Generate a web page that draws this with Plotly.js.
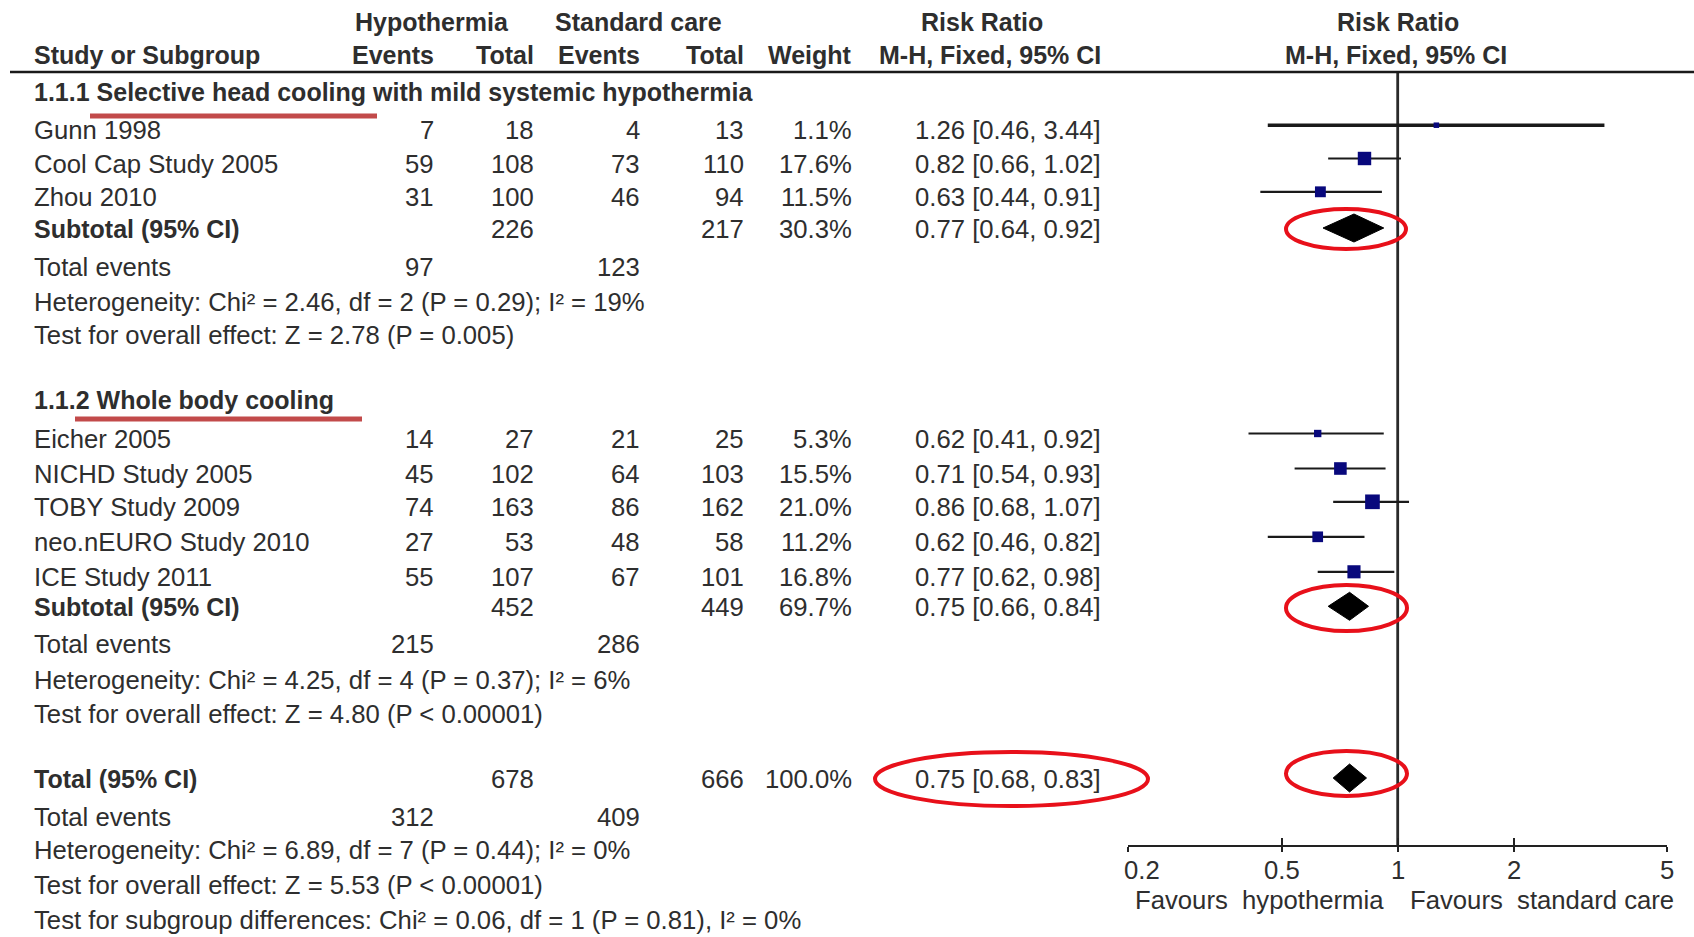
<!DOCTYPE html>
<html>
<head>
<meta charset="utf-8">
<script src="https://cdn.plot.ly/plotly-3.0.1.min.js"></script>
<style>html,body{margin:0;padding:0;background:#fff;}#chart{width:1694px;height:937px;}</style>
</head>
<body>
<div id="chart"></div>
<script>
// ---------------- DATA ----------------
const studies = ["Gunn 1998", "Cool Cap Study 2005", "Zhou 2010", "Eicher 2005", "NICHD Study 2005", "TOBY Study 2009", "neo.nEURO Study 2010", "ICE Study 2011"];
const studyGroup = [0, 0, 0, 1, 1, 1, 1, 1];
const hypEvents = [7, 59, 31, 14, 45, 74, 27, 55];
const hypTotal = [18, 108, 100, 27, 102, 163, 53, 107];
const scEvents = [4, 73, 46, 21, 64, 86, 48, 67];
const scTotal = [13, 110, 94, 25, 103, 162, 58, 101];
const weight = [1.1, 17.6, 11.5, 5.3, 15.5, 21.0, 11.2, 16.8];
const rr = [1.26, 0.82, 0.63, 0.62, 0.71, 0.86, 0.62, 0.77];
const rrLo = [0.46, 0.66, 0.44, 0.41, 0.54, 0.68, 0.46, 0.62];
const rrHi = [3.44, 1.02, 0.91, 0.92, 0.93, 1.07, 0.82, 0.98];

const groupNames = ["1.1.1 Selective head cooling with mild systemic hypothermia", "1.1.2 Whole body cooling"];
const subHypTotal = [226, 452];
const subScTotal = [217, 449];
const subWeight = [30.3, 69.7];
const subRR = [0.77, 0.75];
const subLo = [0.64, 0.66];
const subHi = [0.92, 0.84];
const subHypEvents = [97, 215];
const subScEvents = [123, 286];
const subHet = ["Heterogeneity: Chi² = 2.46, df = 2 (P = 0.29); I² = 19%", "Heterogeneity: Chi² = 4.25, df = 4 (P = 0.37); I² = 6%"];
const subTest = ["Test for overall effect: Z = 2.78 (P = 0.005)", "Test for overall effect: Z = 4.80 (P &lt; 0.00001)"];

const totHypTotal = 678, totScTotal = 666, totWeight = 100.0;
const totRR = 0.75, totLo = 0.68, totHi = 0.83;
const totHypEvents = 312, totScEvents = 409;
const totHet = "Heterogeneity: Chi² = 6.89, df = 7 (P = 0.44); I² = 0%";
const totTest = "Test for overall effect: Z = 5.53 (P &lt; 0.00001)";
const subgroupTest = "Test for subgroup differences: Chi² = 0.06, df = 1 (P = 0.81), I² = 0%";

const tickVals = [0.2, 0.5, 1, 2, 5];
const tickText = ["0.2", "0.5", "1", "2", "5"];
const favoursLeft = "Favours hypothermia";
const favoursRight = "Favours standard care";

// ---------------- LAYOUT (pixel positions) ----------------
const W = 1694, H = 937;
const ROW = {
  hdr1: 23, hdr2: 56.5, rule: 72,
  grp: [93, 401.7],
  study: [131.7, 165, 198.3, 440, 475, 508.3, 543.3, 578.3],
  sub: [230, 608.3], subTE: [268.3, 645], subHet: [303.3, 681.7], subTest: [336.7, 715],
  total: 780, totTE: 818.3, totHet: 851.7, totTest: 886.7, subgrp: 921,
  axis: 846, tickLab: 870, favours: 900
};
const TEXT_DY = -1.5;
const COL = { label: 32, hypE: 436, hypT: 536, scE: 642, scT: 746, w: 854, rr: 1103 };
const MARK_OFF = -6.5, DIAM_OFF = -2, DIAM_H = 14;
const TXT = '#2e2e2e';
const FONT = 'Liberation Sans, Arial, sans-serif';
const FS = 25.7, FSB = 25;

const ann = [];
function t(text, x, y, anchor, bold, extra) {
  const a = {text: bold ? '<b>' + text + '</b>' : text, x: x / W, xref: 'paper', y: y + TEXT_DY, yref: 'y',
    xanchor: anchor, yanchor: 'middle', showarrow: false,
    font: {family: FONT, size: bold ? FSB : FS, color: TXT}};
  return ann.push(Object.assign(a, extra || {}));
}
const pct = v => v.toFixed(1) + '%';
const ci = (e, l, h) => e.toFixed(2) + ' [' + l.toFixed(2) + ', ' + h.toFixed(2) + ']';

// headers
t('Hypothermia', 432, ROW.hdr1, 'center', true);
t('Standard care', 638, ROW.hdr1, 'center', true);
t('Risk Ratio', 982, ROW.hdr1, 'center', true);
t('Risk Ratio', 1398, ROW.hdr1, 'center', true);
t('Study or Subgroup', COL.label, ROW.hdr2, 'left', true);
t('Events', COL.hypE, ROW.hdr2, 'right', true);
t('Total', COL.hypT, ROW.hdr2, 'right', true);
t('Events', COL.scE, ROW.hdr2, 'right', true);
t('Total', COL.scT, ROW.hdr2, 'right', true);
t('Weight', COL.w, ROW.hdr2, 'right', true);
t('M-H, Fixed, 95% CI', COL.rr, ROW.hdr2, 'right', true);
t('M-H, Fixed, 95% CI', 1396, ROW.hdr2, 'center', true);

// studies
studies.forEach((s, i) => {
  const y = ROW.study[i];
  t(s, COL.label, y, 'left');
  t(String(hypEvents[i]), COL.hypE, y, 'right');
  t(String(hypTotal[i]), COL.hypT, y, 'right');
  t(String(scEvents[i]), COL.scE, y, 'right');
  t(String(scTotal[i]), COL.scT, y, 'right');
  t(pct(weight[i]), COL.w, y, 'right');
  t(ci(rr[i], rrLo[i], rrHi[i]), COL.rr, y, 'right');
});
// groups
groupNames.forEach((g, k) => {
  t(g, COL.label, ROW.grp[k], 'left', true);
  t('Subtotal (95% CI)', COL.label, ROW.sub[k], 'left', true);
  t(String(subHypTotal[k]), COL.hypT, ROW.sub[k], 'right');
  t(String(subScTotal[k]), COL.scT, ROW.sub[k], 'right');
  t(pct(subWeight[k]), COL.w, ROW.sub[k], 'right');
  t(ci(subRR[k], subLo[k], subHi[k]), COL.rr, ROW.sub[k], 'right');
  t('Total events', COL.label, ROW.subTE[k], 'left');
  t(String(subHypEvents[k]), COL.hypE, ROW.subTE[k], 'right');
  t(String(subScEvents[k]), COL.scE, ROW.subTE[k], 'right');
  t(subHet[k], COL.label, ROW.subHet[k], 'left');
  t(subTest[k], COL.label, ROW.subTest[k], 'left');
});
// total
t('Total (95% CI)', COL.label, ROW.total, 'left', true);
t(String(totHypTotal), COL.hypT, ROW.total, 'right');
t(String(totScTotal), COL.scT, ROW.total, 'right');
t(pct(totWeight), COL.w, ROW.total, 'right');
t(ci(totRR, totLo, totHi), COL.rr, ROW.total, 'right');
t('Total events', COL.label, ROW.totTE, 'left');
t(String(totHypEvents), COL.hypE, ROW.totTE, 'right');
t(String(totScEvents), COL.scE, ROW.totTE, 'right');
t(totHet, COL.label, ROW.totHet, 'left');
t(totTest, COL.label, ROW.totTest, 'left');
t(subgroupTest, COL.label, ROW.subgrp, 'left');

// axis tick labels and favours labels (on the log axis: x in log10 units)
tickVals.forEach((v, i) => {
  ann.push({text: tickText[i], x: Math.log10(v), xref: 'x', y: ROW.tickLab, yref: 'y',
    xanchor: i === 0 ? 'left' : 'center', xshift: i === 0 ? -6 : 0, yanchor: 'middle', showarrow: false,
    font: {family: FONT, size: FS, color: TXT}});
});
ann.push({text: favoursLeft.replace(' ', '&nbsp; '), x: 0, xref: 'x', y: ROW.favours, yref: 'y', xanchor: 'right', xshift: -12,
  yanchor: 'middle', showarrow: false, font: {family: FONT, size: FS, color: TXT}});
ann.push({text: favoursRight.replace(' ', '&nbsp; '), x: 0, xref: 'x', y: ROW.favours, yref: 'y', xanchor: 'left', xshift: 10,
  yanchor: 'middle', showarrow: false, font: {family: FONT, size: FS, color: TXT}});

// ---------------- TRACES ----------------
const traces = [];
// reference line at RR = 1
traces.push({x: [1, 1], y: [ROW.rule, ROW.axis], mode: 'lines', line: {color: '#2a2a2a', width: 2.8}, hoverinfo: 'skip'});
// CI lines
const ciWidths = [3.5, 2.2, 2.2, 2.2, 2.2, 2.2, 2.2, 2.2];
studies.forEach((s, i) => {
  traces.push({x: [rrLo[i], rrHi[i]], y: [ROW.study[i] + MARK_OFF, ROW.study[i] + MARK_OFF], mode: 'lines',
    line: {color: '#1a1a1a', width: ciWidths[i]}, hoverinfo: 'skip'});
});
// study squares
traces.push({x: rr, y: ROW.study.map(y => y + MARK_OFF), mode: 'markers', hoverinfo: 'skip',
  marker: {symbol: 'square', color: '#08087c', opacity: 1, size: weight.map(w => Math.max(5.5, 3.2 * Math.sqrt(w))), line: {width: 0}}});
// diamonds
function diamond(e, l, h, yc) {
  traces.push({x: [l, e, h, e, l], y: [yc, yc - DIAM_H, yc, yc + DIAM_H, yc], mode: 'lines', fill: 'toself',
    fillcolor: '#000', line: {color: '#000', width: 1}, hoverinfo: 'skip'});
}
subRR.forEach((e, k) => diamond(e, subLo[k], subHi[k], ROW.sub[k] + DIAM_OFF));
diamond(totRR, totLo, totHi, ROW.total + DIAM_OFF);
// dummy trace for the overlay tick axis
traces.push({x: [1], y: [ROW.axis], xaxis: 'x2', yaxis: 'y', mode: 'markers', marker: {opacity: 0}, hoverinfo: 'skip'});

// ---------------- SHAPES ----------------
const shapes = [];
shapes.push({type: 'line', xref: 'paper', yref: 'y', x0: 10 / W, x1: 1, y0: ROW.rule, y1: ROW.rule, line: {color: '#1a1a1a', width: 2.5}});
// red underlines
const underlines = [[90, 377, 116], [75, 362, 419]];
underlines.forEach(u => shapes.push({type: 'line', xref: 'paper', yref: 'y', x0: u[0] / W, x1: u[1] / W, y0: u[2], y1: u[2],
  line: {color: '#c24a4a', width: 5}}));
// red ellipses
const ellipses = [[1286, 1406, 209, 249], [1286, 1407, 585, 631], [1286, 1407, 751, 796], [875, 1148, 752, 806]];
ellipses.forEach(e => shapes.push({type: 'circle', xref: 'paper', yref: 'y', x0: e[0] / W, x1: e[1] / W, y0: e[2], y1: e[3],
  line: {color: '#e8101a', width: 4}}));

const axPos = 1 - ROW.axis / H;
const layout = {
  width: W, height: H, margin: {l: 0, r: 0, t: 0, b: 0}, paper_bgcolor: '#fff', plot_bgcolor: '#fff',
  showlegend: false, hovermode: false,
  xaxis: {type: 'log', range: [Math.log10(0.2), Math.log10(5)], domain: [1128.4 / W, 1667 / W],
    anchor: 'free', position: axPos, showline: true, linecolor: '#222', linewidth: 2,
    ticks: 'outside', ticklen: 5, tickwidth: 2, tickcolor: '#222', tickvals: tickVals,
    showticklabels: false, showgrid: false, zeroline: false, fixedrange: true},
  xaxis2: {type: 'log', range: [Math.log10(0.2), Math.log10(5)], overlaying: 'x',
    anchor: 'free', position: axPos, showline: false,
    ticks: 'inside', ticklen: 8, tickwidth: 2, tickcolor: '#222', tickvals: tickVals,
    showticklabels: false, showgrid: false, zeroline: false, fixedrange: true},
  yaxis: {range: [H, 0], domain: [0, 1], visible: false, showgrid: false, zeroline: false, fixedrange: true},
  annotations: ann, shapes: shapes
};
Plotly.newPlot('chart', traces, layout, {staticPlot: true, displayModeBar: false});
</script>
</body>
</html>
